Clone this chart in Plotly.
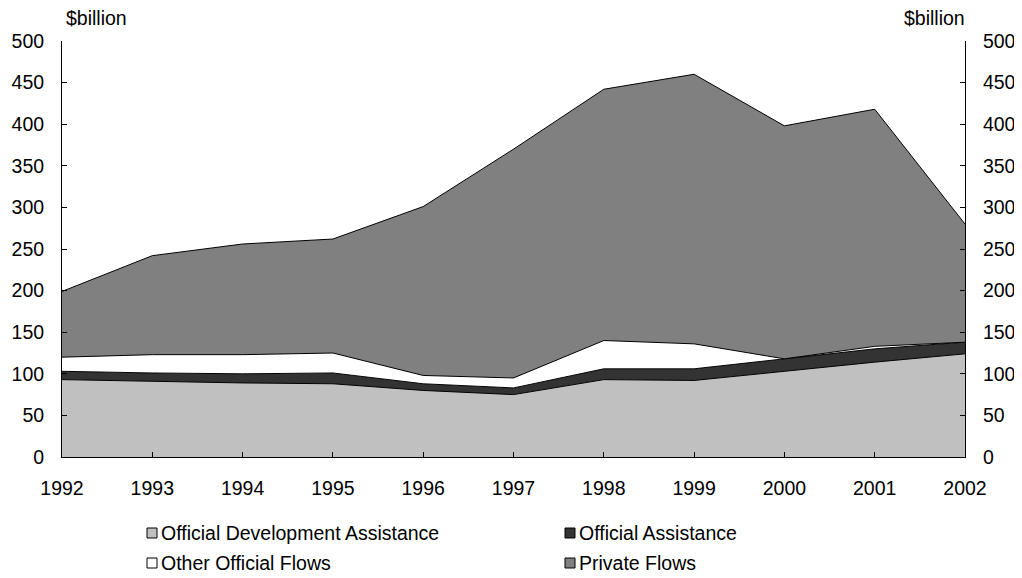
import plotly.graph_objects as go

years = [1992, 1993, 1994, 1995, 1996, 1997, 1998, 1999, 2000, 2001, 2002]
oda = [93, 91, 89, 88, 80, 75, 93, 92, 103, 114, 124]
official_assistance = [10, 10, 11, 13, 8, 8, 13, 14, 15, 16, 14]
other_official = [17, 22, 23, 24, 10, 12, 34, 30, 0, 3, 0]
private = [79, 119, 133, 137, 203, 275, 302, 324, 280, 285, 142]

series_names = ["Official Development Assistance", "Official Assistance",
                "Other Official Flows", "Private Flows"]
series_values = [oda, official_assistance, other_official, private]
series_colors = ["#C0C0C0", "#333333", "#FFFFFF", "#808080"]

FONT = "Liberation Sans, Arial, sans-serif"
FS = 19.5

fig = go.Figure()
for name, vals, col in zip(series_names, series_values, series_colors):
    fig.add_trace(go.Scatter(
        x=years, y=vals, name=name, mode="lines", stackgroup="one",
        line=dict(color="#000000", width=1), fillcolor=col, showlegend=False,
    ))

# invisible trace on right axis so it renders
fig.add_trace(go.Scatter(x=[years[0]], y=[0], yaxis="y2", mode="markers",
                         marker=dict(opacity=0), showlegend=False, hoverinfo="skip"))

# page body has an 8px margin: figure is 1014x570 placed at (8, 8)
OFF = 8
yt = list(range(0, 501, 50))
fig.update_layout(
    width=1022 - OFF, height=578 - OFF,
    margin=dict(l=62 - OFF, r=57, t=41 - OFF, b=121, autoexpand=False),
    paper_bgcolor="white", plot_bgcolor="white",
    font=dict(family=FONT, size=FS, color="black"),
    xaxis=dict(range=[1992, 2002], tickvals=years, ticktext=[str(y) for y in years],
               showgrid=False, zeroline=False, showline=True, linecolor="black", linewidth=1,
               ticks="inside", ticklen=5, tickcolor="black", ticklabelstandoff=14,
               automargin=False, tickfont=dict(family=FONT, size=FS)),
    yaxis=dict(range=[0, 500], tickvals=yt, showgrid=False, zeroline=False,
               showline=True, linecolor="black", linewidth=1,
               ticks="inside", ticklen=5, tickcolor="black", ticklabelstandoff=13,
               automargin=False, tickfont=dict(family=FONT, size=FS)),
    yaxis2=dict(range=[0, 500], tickvals=yt, overlaying="y", side="right",
                showgrid=False, zeroline=False, showline=True, linecolor="black", linewidth=1,
                ticks="inside", ticklen=5, tickcolor="black", ticklabelstandoff=13,
                automargin=False, tickfont=dict(family=FONT, size=FS)),
    showlegend=False,
)

# $billion labels
fig.add_annotation(text="$billion", xref="paper", yref="paper", x=0, y=1.055,
                   xanchor="left", yanchor="middle", xshift=2, showarrow=False,
                   font=dict(family=FONT, size=FS))
fig.add_annotation(text="$billion", xref="paper", yref="paper", x=1, y=1.055,
                   xanchor="right", yanchor="middle", xshift=2, showarrow=False,
                   font=dict(family=FONT, size=FS))

# manual legend (2 x 2), positions given in page pixels
W, H, L, B = 903.0, 416.0, 62.0, 457.0
def px(x):
    return (x - L) / W
def py(y):
    return (B - y) / H

legend_cols = [147, 565]
legend_rows = [533, 563]
for i, (name, col) in enumerate(zip(series_names, series_colors)):
    cx = legend_cols[i % 2]
    cy = legend_rows[i // 2]
    fig.add_shape(type="rect", xref="paper", yref="paper",
                  x0=px(cx), x1=px(cx + 10), y0=py(cy - 5), y1=py(cy + 5),
                  fillcolor=col, line=dict(color="black", width=1))
    fig.add_annotation(text=name, xref="paper", yref="paper", x=px(cx + 12), y=py(cy),
                       xanchor="left", yanchor="middle", showarrow=False,
                       font=dict(family=FONT, size=FS))

fig.write_html("out.html")
